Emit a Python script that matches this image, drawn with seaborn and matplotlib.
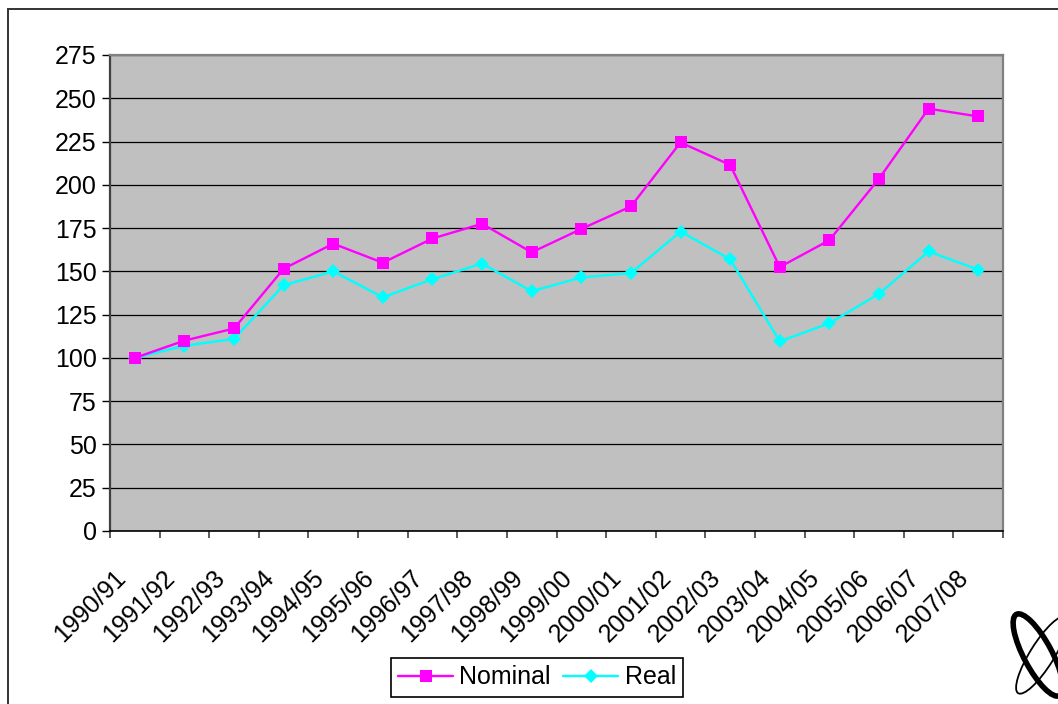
import matplotlib
matplotlib.use("Agg")
import numpy as np
import pandas as pd
import matplotlib.pyplot as plt
import seaborn as sns
from matplotlib.lines import Line2D
from matplotlib.patches import Rectangle, Ellipse
from matplotlib.transforms import IdentityTransform, ScaledTranslation

# Index values (1990/91 = 100)
years = ["1990/91", "1991/92", "1992/93", "1993/94", "1994/95", "1995/96",
         "1996/97", "1997/98", "1998/99", "1999/00", "2000/01", "2001/02",
         "2002/03", "2003/04", "2004/05", "2005/06", "2006/07", "2007/08"]
nominal = [100, 110, 117, 151.5, 166, 155, 169, 177.5, 161, 174.5,
           187.5, 224.5, 211.5, 152.5, 168, 203.5, 244, 239.5]
real = [100, 107, 111, 142, 150, 135, 145.5, 154.5, 138.5, 146.5,
        149, 173, 157, 109.5, 120, 137, 161.5, 151]
y_ticks = list(range(0, 276, 25))

NOM_COLOR = "#FF00FF"
REAL_COLOR = "#00FFFF"
FS = 18
LW = 1.7
SQ_MS = 9.2
DI_MS = 7.2

sns.set_theme(style="white")
plt.rcParams["font.family"] = ["Liberation Sans", "DejaVu Sans"]
plt.rcParams["text.color"] = "black"
plt.rcParams["xtick.color"] = "black"
plt.rcParams["ytick.color"] = "black"

df_nom = pd.DataFrame({"year": years, "value": nominal})
df_real = pd.DataFrame({"year": years, "value": real})

fig = plt.figure(figsize=(10.58, 7.04), dpi=100)
ax = fig.add_axes([110 / 1058, 173 / 704, 893 / 1058, 476 / 704])
ax.set_facecolor("#C0C0C0")

sns.lineplot(data=df_nom, x="year", y="value", color=NOM_COLOR, marker="s",
             markersize=SQ_MS, markeredgewidth=0, linewidth=LW, sort=False,
             legend=False, ax=ax, zorder=4)
sns.lineplot(data=df_real, x="year", y="value", color=REAL_COLOR, marker="D",
             markersize=DI_MS, markeredgewidth=0, linewidth=LW, sort=False,
             legend=False, ax=ax, zorder=3)

# Axes, grid and ticks
ax.set_xlim(-0.5, len(years) - 0.5)
ax.set_ylim(0, 275)
ax.set_yticks(y_ticks)
ax.set_yticklabels([str(v) for v in y_ticks], fontsize=FS, color="black")
ax.yaxis.grid(True, color="black", linewidth=0.9)
ax.xaxis.grid(False)
ax.set_axisbelow(True)
ax.set_xlabel("")
ax.set_ylabel("")

ax.set_xticks(range(len(years)))
ax.set_xticklabels(years, fontsize=FS, rotation=45, ha="right", va="center",
                   rotation_mode="anchor", color="black")
ax.set_xticks(np.arange(-0.5, len(years), 1.0), minor=True)
ax.tick_params(axis="x", which="major", length=0, pad=31)
ax.tick_params(axis="x", which="minor", length=5, width=1.2, color="#404040",
               direction="out", bottom=True)
ax.tick_params(axis="y", which="major", length=6, width=1, color="black",
               direction="out", left=True, pad=3.5)

# nudge the slanted category labels slightly left
shift = ScaledTranslation(-13 / 100, 0, fig.dpi_scale_trans)
for lab in ax.get_xticklabels():
    lab.set_transform(lab.get_transform() + shift)

for side, col, lw in [("left", "#404040", 1.6), ("bottom", "black", 1.2),
                      ("top", "#808080", 1.6), ("right", "#808080", 1.6)]:
    ax.spines[side].set_visible(True)
    ax.spines[side].set_color(col)
    ax.spines[side].set_linewidth(lw)

# Legend
handles = [
    Line2D([], [], color=NOM_COLOR, marker="s", markersize=SQ_MS,
           markeredgewidth=0, linewidth=LW),
    Line2D([], [], color=REAL_COLOR, marker="D", markersize=DI_MS,
           markeredgewidth=0, linewidth=LW),
]
leg = fig.legend(handles, ["Nominal", "Real"], loc="center",
                 bbox_to_anchor=(537 / 1058, 1 - 677.5 / 704), ncol=2,
                 fontsize=FS, frameon=True, fancybox=False, framealpha=1,
                 edgecolor="black", handlelength=2.2, handletextpad=0.25,
                 columnspacing=0.5, borderpad=0.3, borderaxespad=0)
leg.get_frame().set_linewidth(1.2)

# Outer chart border
fig.patches.append(Rectangle((7.5 / 1058, -0.1), 1.2, 1.1 - 9.5 / 704,
                             fill=False, edgecolor="#333333", linewidth=1.4,
                             transform=fig.transFigure, figure=fig))

# Corner emblem
cx, cy = 1038, 704 - 655
fig.patches.append(Ellipse((cx, cy), 92, 28, angle=-62, fill=False,
                           edgecolor="black", linewidth=4.0,
                           transform=IdentityTransform(), figure=fig))
fig.patches.append(Ellipse((cx + 4, cy), 90, 24, angle=58, fill=False,
                           edgecolor="black", linewidth=1.3,
                           transform=IdentityTransform(), figure=fig))

fig.savefig("out.png", dpi=100)
